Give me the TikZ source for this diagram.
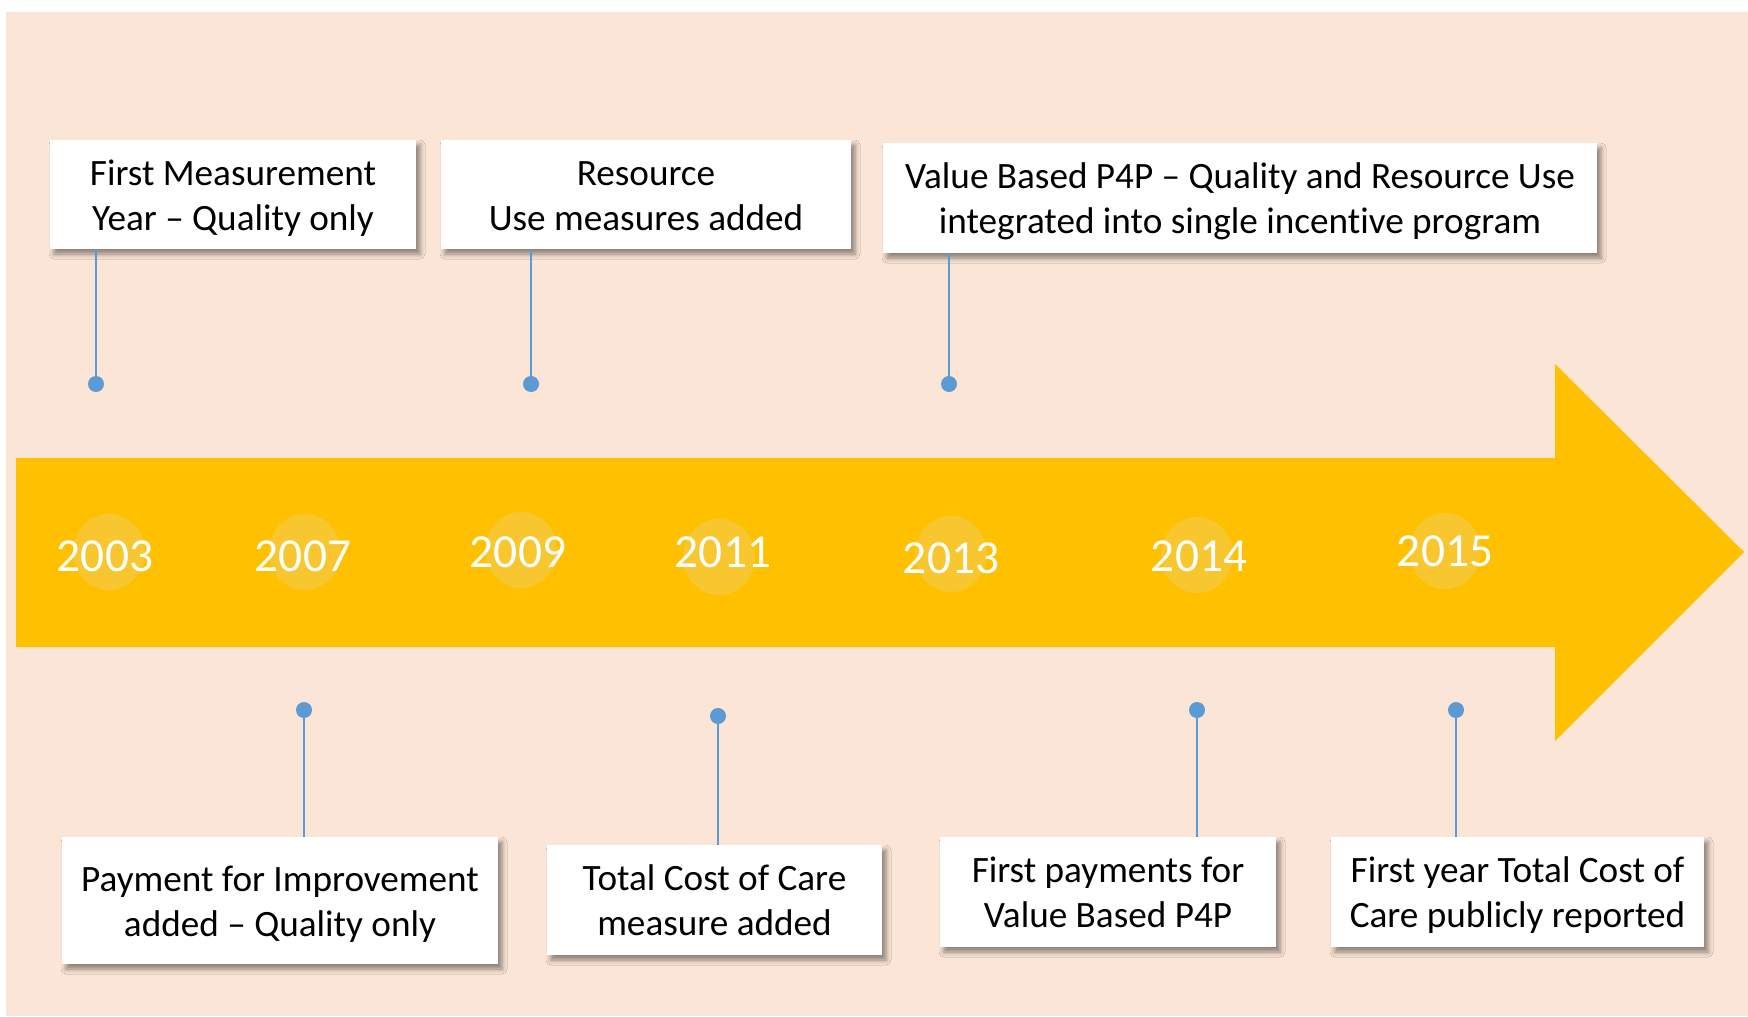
\documentclass[tikz,border=0pt]{standalone}
\usepackage{fontspec}
\setmainfont{Carlito}[Ligatures=NoCommon]
\usetikzlibrary{shadows.blur,shapes.geometric}
\definecolor{peach}{HTML}{FBE5D6}
\definecolor{gold}{HTML}{FFC000}
\definecolor{circfill}{HTML}{F8C62E}
\definecolor{blueln}{HTML}{5B9BD5}
\newcommand{\evs}{\rule[-3pt]{0pt}{19pt}}
\tikzset{
  evbox/.style={fill=white, draw=none, inner sep=0pt, align=center,
    blur shadow={shadow xshift=2pt, shadow yshift=-2.5pt, shadow blur radius=2.5pt, shadow opacity=45},
    font=\fontsize{18.6}{22.5}\selectfont, text=black},
  yearcirc/.style={ellipse, fill=circfill, draw=none, inner sep=0pt, minimum width=36pt, minimum height=38pt},
  yeartext/.style={anchor=base, text=white, inner sep=0pt, font=\fontsize{23.7}{28}\selectfont},
  evdot/.style={circle, fill=blueln, draw=none, inner sep=0pt, minimum size=8pt},
  conn/.style={draw=blueln, line width=1.25pt}
}
\begin{document}
\begin{tikzpicture}[x=0.5pt,y=-0.5pt]
\useasboundingbox (0,0) rectangle (1748,1016);
\fill[white] (0,0) rectangle (1748,1016);
\fill[peach] (6,12) rectangle (1748,1016);
% arrow
\fill[gold] (16,458) -- (1555,458) -- (1555,364) -- (1744,552) -- (1555,741) -- (1555,647) -- (16,647) -- cycle;
% year circles
\node[yearcirc] (c1) at (109,552) {};
\node[yearcirc] (c2) at (305,552) {};
\node[yearcirc] (c3) at (521,550) {};
\node[yearcirc] (c4) at (719,557) {};
\node[yearcirc] (c5) at (951,554) {};
\node[yearcirc] (c6) at (1197,555) {};
\node[yearcirc] (c7) at (1445,551) {};
\node[yeartext] (t1) at (105,571) {2003};
\node[yeartext] (t2) at (303,571) {2007};
\node[yeartext] (t3) at (518,567) {2009};
\node[yeartext] (t4) at (723,567) {2011};
\node[yeartext] (t5) at (951,573) {2013};
\node[yeartext] (t6) at (1199,571) {2014};
\node[yeartext] (t7) at (1445,566) {2015};
% top boxes
\node[evbox, minimum width=183pt, minimum height=54.5pt] (b1) at (233,194.5) {\evs First Measurement\\\evs Year – Quality only};
\node[evbox, minimum width=205pt, minimum height=54.5pt] (b2) at (646,194.5) {\evs Resource\\\evs Use measures added};
\node[evbox, minimum width=357pt, minimum height=55pt] (b3) at (1240,198) {\evs Value Based P4P – Quality and Resource Use\\\evs integrated into single incentive program};
% bottom boxes
\node[evbox, minimum width=218pt, minimum height=63.5pt] (b4) at (280,900.5) {\evs Payment for Improvement\\\evs added – Quality only};
\node[evbox, minimum width=167.5pt, minimum height=55pt] (b5) at (714.5,900) {\evs Total Cost of Care\\\evs measure added};
\node[evbox, minimum width=168pt, minimum height=55pt] (b6) at (1108,892) {\evs First payments for\\\evs Value Based P4P};
\node[evbox, minimum width=186.5pt, minimum height=55pt] (b7) at (1517.5,892) {\evs First year Total Cost of\\\evs Care publicly reported};
% dots
\node[evdot] (d1) at (96,384) {};
\node[evdot] (d2) at (531,384) {};
\node[evdot] (d3) at (949,384) {};
\node[evdot] (d4) at (304,710) {};
\node[evdot] (d5) at (718,716) {};
\node[evdot] (d6) at (1197,710) {};
\node[evdot] (d7) at (1456,710) {};
% connectors
\draw[conn] (b1.south -| d1) -- (d1.center);
\draw[conn] (b2.south -| d2) -- (d2.center);
\draw[conn] (b3.south -| d3) -- (d3.center);
\draw[conn] (b4.north -| d4) -- (d4.center);
\draw[conn] (b5.north -| d5) -- (d5.center);
\draw[conn] (b6.north -| d6) -- (d6.center);
\draw[conn] (b7.north -| d7) -- (d7.center);
\end{tikzpicture}
\end{document}
